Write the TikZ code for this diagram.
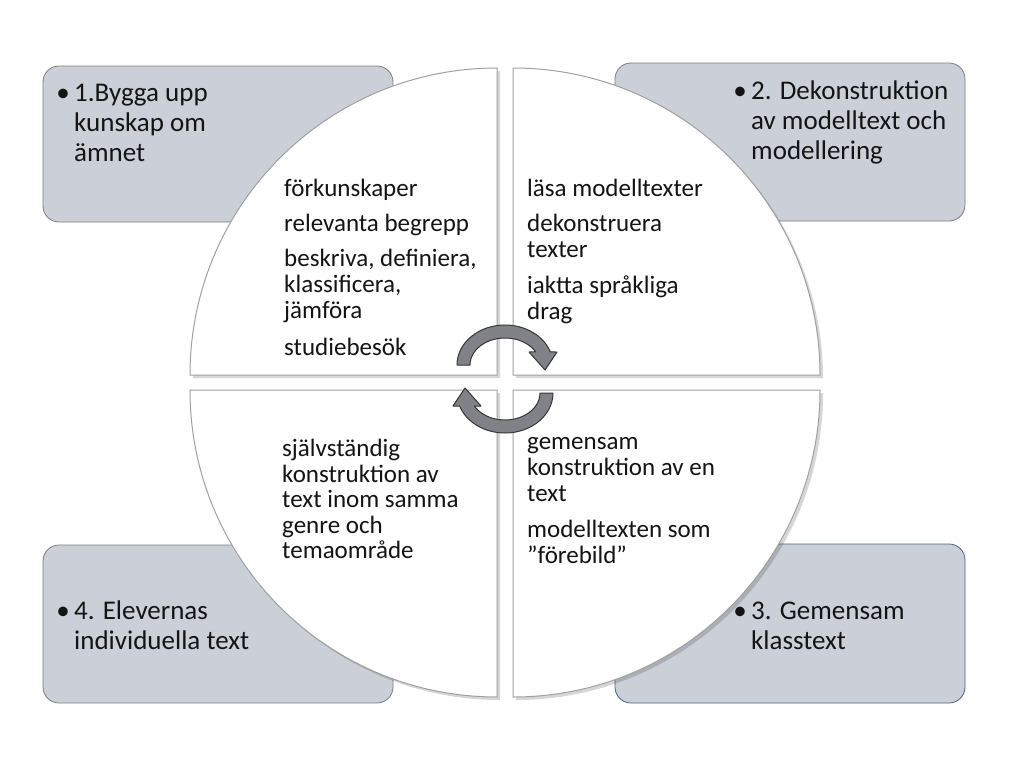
\documentclass[tikz,border=0pt]{standalone}
\usepackage{fontspec}
\setmainfont{Carlito}
\definecolor{boxgrey}{RGB}{203,208,216}
\definecolor{boxedge}{RGB}{125,125,125}
\definecolor{boxedgeblue}{RGB}{78,98,128}
\definecolor{quadedge}{RGB}{160,160,160}
\definecolor{arrgrey}{RGB}{128,130,135}
\definecolor{arredge}{RGB}{55,55,55}
\definecolor{txt}{RGB}{20,20,20}
\begin{document}
\begin{tikzpicture}[x=1pt,y=-1pt,
  box/.style={fill=boxgrey, draw=boxedge, line width=0.8pt, rounded corners=16pt},
  quad/.style={fill=white, draw=quadedge, line width=1pt},
  qshadow/.style={fill=black, opacity=0.16},
  arrowshape/.style={fill=arrgrey, draw=arredge, line width=1pt, line join=round},
  btxt/.style={anchor=base west, inner sep=0pt, text=txt, font=\fontsize{27}{30}\selectfont},
  qtxt/.style={anchor=base west, inner sep=0pt, text=txt, font=\fontsize{25}{26}\selectfont},
  bullet/.style={anchor=base, inner sep=0pt, text=txt, font=\fontsize{27}{30}\selectfont}]
\useasboundingbox (0,0) rectangle (1024,768);
\fill[white] (0,0) rectangle (1024,768);

% corner boxes
\draw[box] (43,66) rectangle (393,222);
\draw[box] (615,63) rectangle (965,221);
\draw[box] (43,545) rectangle (393,703);
\draw[box, draw=boxedgeblue] (615,544) rectangle (965,703);

% quadrant shadows
\begin{scope}[shift={(3,3)}]
\fill[qshadow] (497,375) -- (190,375) arc[start angle=180, end angle=270, radius=307] -- cycle;
\fill[qshadow] (513,375) -- (513,68) arc[start angle=270, end angle=360, radius=307] -- cycle;
\fill[qshadow] (513,390) -- (820,390) arc[start angle=0, end angle=90, radius=307] -- cycle;
\fill[qshadow] (497,390) -- (497,697) arc[start angle=90, end angle=180, radius=307] -- cycle;
\end{scope}

% quadrants
\draw[quad] (497,375) -- (190,375) arc[start angle=180, end angle=270, radius=307] -- cycle;
\draw[quad] (513,375) -- (513,68) arc[start angle=270, end angle=360, radius=307] -- cycle;
\draw[quad] (513,390) -- (820,390) arc[start angle=0, end angle=90, radius=307] -- cycle;
\draw[quad] (497,390) -- (497,697) arc[start angle=90, end angle=180, radius=307] -- cycle;

% cycle arrows
\draw[arrowshape] (457,365) arc[start angle=180, end angle=341, x radius=48, y radius=40]
  -- (557,352) -- (545,370) -- (529,352)
  -- ({505+35*cos(331)},{365+27*sin(331)})
  arc[start angle=331, end angle=180, x radius=35, y radius=27] -- cycle;
\draw[arrowshape] (553,393) arc[start angle=0, end angle=161, x radius=48, y radius=40]
  -- (453,406) -- (465,388) -- (481,406)
  -- ({505+35*cos(151)},{393+27*sin(151)})
  arc[start angle=151, end angle=0, x radius=35, y radius=27] -- cycle;

% box texts
\node[bullet] (b1) at (63,101) {•};
\node[btxt] (t1a) at (74,101) {1.Bygga upp};
\node[btxt] (t1b) at (74,131) {kunskap om};
\node[btxt] (t1c) at (74,161) {ämnet};

\node[bullet] (b2) at (740,99) {•};
\node[btxt] (t2a) at (751,99) {2. Dekonstruktion};
\node[btxt] (t2b) at (751,129) {av modelltext och};
\node[btxt] (t2c) at (751,159) {modellering};

\node[bullet] (b4) at (63,619) {•};
\node[btxt] (t4a) at (74,619) {4. Elevernas};
\node[btxt] (t4b) at (74,649) {individuella text};

\node[bullet] (b3) at (740,619) {•};
\node[btxt] (t3a) at (751,619) {3. Gemensam};
\node[btxt] (t3b) at (751,649) {klasstext};

% quadrant texts
\node[qtxt] (q1a) at (284,196) {förkunskaper};
\node[qtxt] (q1b) at (284,231) {relevanta begrepp};
\node[qtxt] (q1c) at (284,266) {beskriva, definiera,};
\node[qtxt] (q1d) at (284,292) {klassificera,};
\node[qtxt] (q1e) at (284,318) {jämföra};
\node[qtxt] (q1f) at (284,355) {studiebesök};

\node[qtxt] (q2a) at (527,196) {läsa modelltexter};
\node[qtxt] (q2b) at (527,231) {dekonstruera};
\node[qtxt] (q2c) at (527,257) {texter};
\node[qtxt] (q2d) at (527,293) {iaktta språkliga};
\node[qtxt] (q2e) at (527,319) {drag};

\node[qtxt] (q4a) at (282,456) {självständig};
\node[qtxt] (q4b) at (282,482) {konstruktion av};
\node[qtxt] (q4c) at (282,507) {text inom samma};
\node[qtxt] (q4d) at (282,533) {genre och};
\node[qtxt] (q4e) at (282,558) {temaområde};

\node[qtxt] (q3a) at (527,449) {gemensam};
\node[qtxt] (q3b) at (527,475) {konstruktion av en};
\node[qtxt] (q3c) at (527,501) {text};
\node[qtxt] (q3d) at (527,537) {modelltexten som};
\node[qtxt] (q3e) at (527,563) {”förebild”};
\end{tikzpicture}
\end{document}
